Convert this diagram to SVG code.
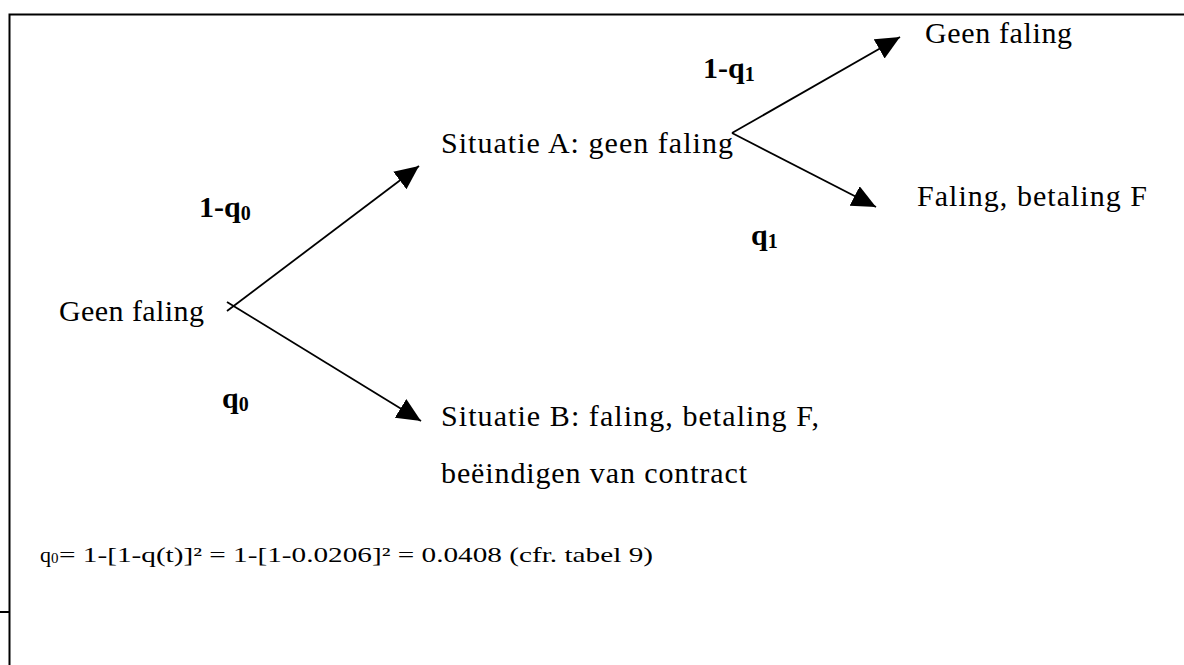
<svg xmlns="http://www.w3.org/2000/svg" width="1184" height="665" viewBox="0 0 1184 665">
<style>
.t{font-family:"Liberation Serif","Times New Roman",serif;font-size:30px;fill:#000}
.b{font-family:"Liberation Serif","Times New Roman",serif;font-size:30px;font-weight:bold;fill:#000}
.s{font-size:20px}
.f{font-family:"Liberation Serif","Times New Roman",serif;font-size:22px;fill:#000}
.c{stroke:#000;stroke-width:1.8;fill:none}
.fr{stroke:#000;stroke-width:2;fill:none}
</style>
<defs>
<marker id="ah" markerUnits="userSpaceOnUse" markerWidth="26" markerHeight="24" refX="24" refY="11" orient="auto">
<path d="M0,0 L24,11 L0,22 Z" fill="#000"/>
</marker>
</defs>
<rect width="1184" height="665" fill="#fff"/>
<g id="frame">
<path class="fr" d="M9.5,665 V14.5 H1184"/>
<path class="fr" d="M0,612 H9"/>
</g>
<g id="connectors">
<line class="c" x1="227" y1="311" x2="419" y2="166" marker-end="url(#ah)"/>
<line class="c" x1="227" y1="302" x2="421" y2="421" marker-end="url(#ah)"/>
<line class="c" x1="732" y1="133" x2="900" y2="37" marker-end="url(#ah)"/>
<line class="c" x1="732" y1="133" x2="876" y2="207" marker-end="url(#ah)"/>
</g>
<g id="node-root"><text class="t" x="59" y="321" textLength="145" lengthAdjust="spacing">Geen faling</text></g>
<g id="node-a"><text class="t" x="441" y="153" textLength="292" lengthAdjust="spacing">Situatie A: geen faling</text></g>
<g id="node-b">
<text class="t" x="441" y="426" textLength="378" lengthAdjust="spacing">Situatie B: faling, betaling F,</text>
<text class="t" x="441" y="483" textLength="306" lengthAdjust="spacing">beëindigen van contract</text>
</g>
<g id="node-a1"><text class="t" x="925" y="43" textLength="147" lengthAdjust="spacing">Geen faling</text></g>
<g id="node-a2"><text class="t" x="917" y="206" textLength="230" lengthAdjust="spacing">Faling, betaling F</text></g>
<g id="labels">
<text class="b" x="199" y="217">1-q<tspan class="s" dy="3">0</tspan></text>
<text class="b" x="222" y="408">q<tspan class="s" dy="3">0</tspan></text>
<text class="b" x="703" y="78">1-q<tspan class="s" dy="3">1</tspan></text>
<text class="b" x="751" y="245">q<tspan class="s" dy="3">1</tspan></text>
</g>
<g id="formula">
<text class="f" x="40" y="562">q<tspan font-size="15" dy="1">0</tspan></text>
<text class="f" x="59" y="562" textLength="594" lengthAdjust="spacingAndGlyphs">= 1-[1-q(t)]² = 1-[1-0.0206]² = 0.0408 (cfr. tabel 9)</text>
</g>
</svg>
